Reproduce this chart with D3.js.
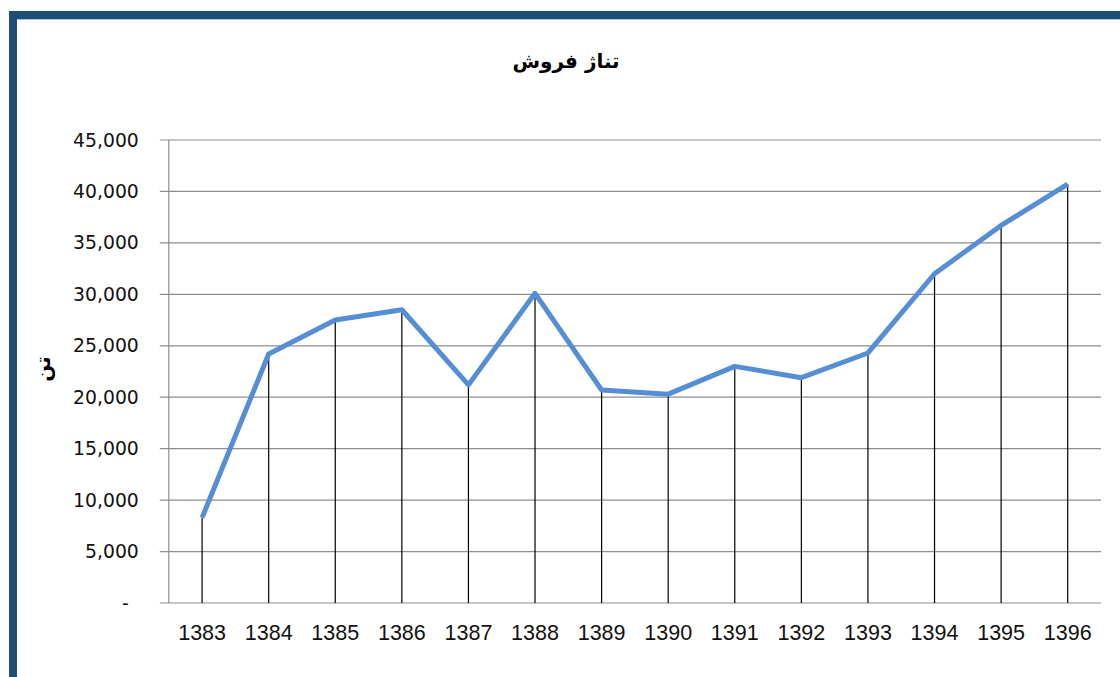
<!DOCTYPE html>
<html>
<head>
<meta charset="utf-8">
<script src="https://cdn.jsdelivr.net/npm/d3@7"></script>
<style>
  body { margin: 0; background: #fff; }
  svg { display: block; }
</style>
</head>
<body>
<div id="chart"></div>
<script>
// data
var years = ["1383", "1384", "1385", "1386", "1387", "1388", "1389",
             "1390", "1391", "1392", "1393", "1394", "1395", "1396"];
var tonnage = [8300, 24200, 27500, 28500, 21200, 30100, 20700,
               20300, 23000, 21900, 24300, 32000, 36700, 40700];
var yTicks = [0, 5000, 10000, 15000, 20000, 25000, 30000, 35000, 40000, 45000];

var svgWidth = 1120;
var svgHeight = 677;

var margin = { top: 140, right: 19, bottom: 74, left: 168.8 };
var width = svgWidth - margin.left - margin.right;
var height = svgHeight - margin.top - margin.bottom;

var svg = d3.select('#chart')
    .append('svg')
    .attr('width', svgWidth)
    .attr('height', svgHeight);

// frame, only top and left bars like the screenshot
svg.append('rect').attr('x', 9).attr('y', 11).attr('width', svgWidth - 9).attr('height', 8).attr('fill', '#1f4e79');
svg.append('rect').attr('x', 9).attr('y', 19).attr('width', svgWidth - 9).attr('height', 1).attr('fill', '#a8c3e0');
svg.append('rect').attr('x', 9).attr('y', 11).attr('width', 8).attr('height', svgHeight - 11).attr('fill', '#1f4e79');

var chartGroup = svg.append('g')
    .attr('transform', `translate(${margin.left}, ${margin.top})`);

var xScale = d3.scaleBand()
    .domain(years)
    .range([0, width])
    .padding(0);

var yScale = d3.scaleLinear()
    .domain([0, 45000])
    .range([height, 0]);

// horizontal gridlines (extend a little left like tick marks)
chartGroup.selectAll('.grid')
    .data(yTicks)
    .enter()
    .append('line')
    .attr('x1', -9)
    .attr('x2', width)
    .attr('y1', d => yScale(d))
    .attr('y2', d => yScale(d))
    .attr('stroke', '#8e8e8e')
    .attr('stroke-width', 1.2);

// y axis line
chartGroup.append('line')
    .attr('x1', 0).attr('x2', 0)
    .attr('y1', 0).attr('y2', height)
    .attr('stroke', '#8e8e8e')
    .attr('stroke-width', 1.2);

// y axis labels
var fmt = d3.format(',');
var leftAxis = d3.axisLeft(yScale)
    .tickValues(yTicks)
    .tickSize(0)
    .tickPadding(30)
    .tickFormat(d => d === 0 ? '-' : fmt(d));

var yAxisG = chartGroup.append('g').call(leftAxis);
yAxisG.select('.domain').remove();
yAxisG.selectAll('text')
    .attr('font-family', 'DejaVu Sans, sans-serif')
    .attr('font-size', '18.8px')
    .attr('fill', '#111')
    .attr('dx', d => d === 0 ? -10 : 0);

// x axis labels
var bottomAxis = d3.axisBottom(xScale).tickSize(0).tickPadding(22);
var xAxisG = chartGroup.append('g')
    .attr('transform', `translate(0, ${height})`)
    .call(bottomAxis);
xAxisG.select('.domain').remove();
xAxisG.selectAll('text')
    .attr('font-family', 'Liberation Sans, Arial, sans-serif')
    .attr('font-size', '21.5px')
    .attr('fill', '#111');

var cx = d => xScale(d) + xScale.bandwidth() / 2;

// drop lines
chartGroup.selectAll('.drop')
    .data(years)
    .enter()
    .append('line')
    .attr('x1', cx)
    .attr('x2', cx)
    .attr('y1', (d, i) => yScale(tonnage[i]))
    .attr('y2', height)
    .attr('stroke', '#000')
    .attr('stroke-width', 1.2);

// series line
var line = d3.line()
    .x((d, i) => cx(years[i]))
    .y(d => yScale(d));

chartGroup.append('path')
    .datum(tonnage)
    .attr('d', line)
    .attr('fill', 'none')
    .attr('stroke', '#558ed5')
    .attr('stroke-width', 5)
    .attr('stroke-linejoin', 'round');

// title
svg.append('text')
    .attr('x', 566)
    .attr('y', 68)
    .attr('text-anchor', 'middle')
    .attr('font-family', 'DejaVu Sans, sans-serif')
    .attr('font-weight', 'bold')
    .attr('font-size', '20px')
    .attr('direction', 'rtl')
    .text('تناژ فروش');

// y axis title
svg.append('text')
    .attr('transform', 'translate(50, 369) rotate(-90)')
    .attr('text-anchor', 'middle')
    .attr('font-family', 'DejaVu Sans, sans-serif')
    .attr('font-weight', 'bold')
    .attr('font-size', '20px')
    .attr('direction', 'rtl')
    .text('تن');
</script>
</body>
</html>
